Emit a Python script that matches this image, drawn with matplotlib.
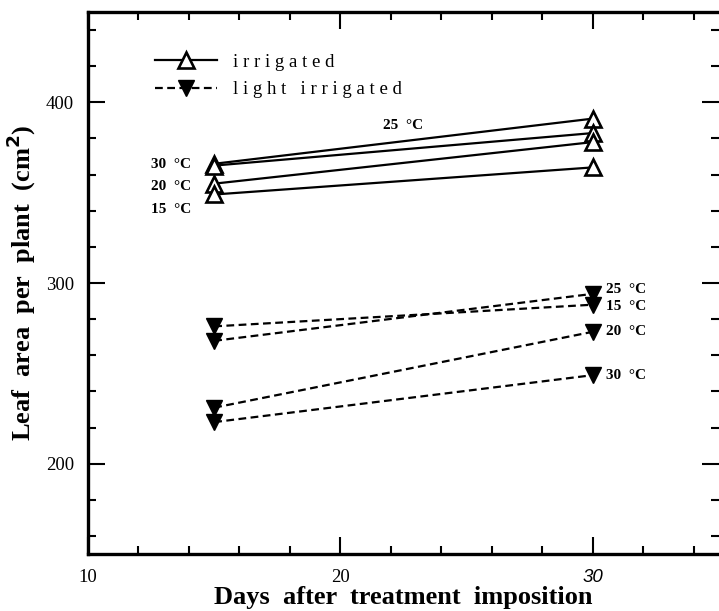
import matplotlib.pyplot as plt
from matplotlib.ticker import MultipleLocator

plt.rcParams['font.family'] = ['Liberation Serif', 'DejaVu Serif']

# days after treatment imposition
days = [15, 30]

# leaf area per plant (cm2), irrigated
irr_temps = ['25 °C', '30 °C', '20 °C', '15 °C']
irr_vals = {
    '25 °C': [366, 391],
    '30 °C': [365, 383],
    '20 °C': [355, 378],
    '15 °C': [349, 364],
}

# leaf area per plant (cm2), light irrigated
light_temps = ['25 °C', '15 °C', '20 °C', '30 °C']
light_vals = {
    '25 °C': [268, 294],
    '15 °C': [276, 288],
    '20 °C': [231, 273],
    '30 °C': [223, 249],
}

xticks = [10, 20, 30]
yticks = [200, 300, 400]

fig = plt.figure(figsize=(7.19, 6.11), dpi=100)
ax = fig.add_axes([0.1224, 0.0933, 0.8776, 0.887])

ms = 11.5
for t in irr_temps:
    ax.plot(days, irr_vals[t], '-', color='k', lw=1.6, marker='^', ms=ms,
            mfc='white', mec='k', mew=1.9)
for t in light_temps:
    ax.plot(days, light_vals[t], color='k', lw=1.6, ls=(0, (3.5, 2)), marker='v',
            ms=ms, mfc='k', mec='k')

# temperature labels
lab = dict(fontsize=11, fontweight='bold', textcoords='offset pixels')
ax.annotate('30  °C', (days[0], irr_vals['30 °C'][0]), xytext=(-23, 1), ha='right', va='center', **lab)
ax.annotate('20  °C', (days[0], irr_vals['20 °C'][0]), xytext=(-23, -3), ha='right', va='center', **lab)
ax.annotate('15  °C', (days[0], irr_vals['15 °C'][0]), xytext=(-23, -15), ha='right', va='center', **lab)
ax.text(21.7, 387, '25  °C', fontsize=11, fontweight='bold', ha='left', va='center')
for t, dy in zip(light_temps, [4, -2, 0, 0]):
    ax.annotate(t.replace(' ', '  '), (days[1], light_vals[t][1]), xytext=(13, dy),
                ha='left', va='center', **lab)

# legend
h1, = ax.plot([], [], '-', color='k', lw=1.6, marker='^', ms=ms, mfc='white', mec='k', mew=1.9)
h2, = ax.plot([], [], color='k', lw=1.6, ls=(0, (3.5, 2)), marker='v', ms=ms, mfc='k')
ax.legend([h1, h2], ['i r r i g a t e d', 'l i g h t   i r r i g a t e d'],
          loc='upper left', bbox_to_anchor=(0.079, 0.954), frameon=False,
          handlelength=3.3, handletextpad=0.9, labelspacing=0.55, fontsize=13.5)

ax.set_xlim(10, 35)
ax.set_ylim(150, 450)
ax.set_xticks(xticks, [str(v) for v in xticks])
ax.set_yticks(yticks, [str(v) for v in yticks])
ax.xaxis.set_minor_locator(MultipleLocator(2))
ax.yaxis.set_minor_locator(MultipleLocator(20))
ax.tick_params(which='both', direction='in', top=True, right=True, width=1.5)
ax.tick_params(which='major', length=12, labelsize=13.5)
ax.tick_params(axis='x', which='major', pad=11)
ax.tick_params(axis='y', which='major', pad=10)
ax.tick_params(which='minor', length=6)
for lbl in ax.get_xticklabels():
    if lbl.get_text() == '30':
        lbl.set_fontfamily('Liberation Sans')
        lbl.set_fontstyle('italic')

for s in ['left', 'bottom', 'top']:
    ax.spines[s].set_linewidth(2.4)
ax.spines['right'].set_visible(False)

ax.set_xlabel('Days  after  treatment  imposition', fontsize=19, fontweight='bold', labelpad=0)
ax.set_ylabel('Leaf  area  per  plant  (cm$^\\mathbf{2}$)', fontsize=19, fontweight='bold', labelpad=6)

fig.savefig('out.png', dpi=100)
